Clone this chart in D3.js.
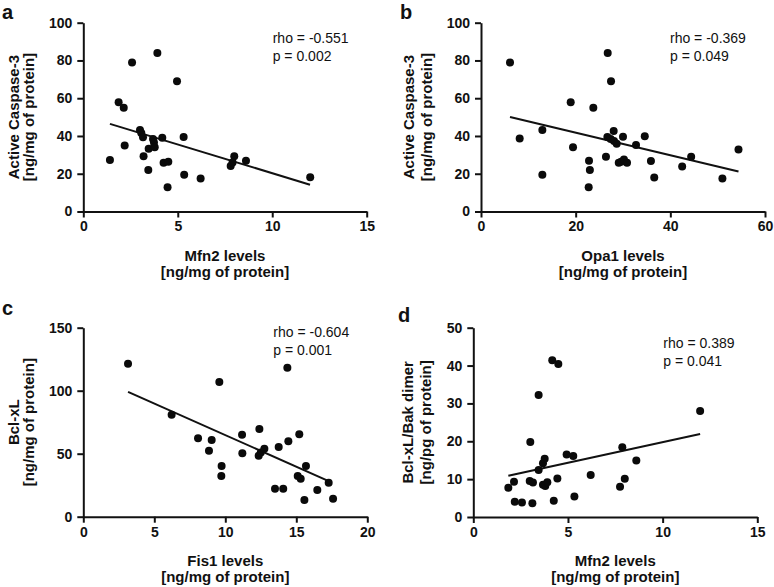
<!DOCTYPE html>
<html>
<head>
<meta charset="utf-8">
<script src="https://cdn.jsdelivr.net/npm/d3@7"></script>
<style>
  html, body { margin: 0; padding: 0; background: #fff; }
  svg { display: block; }
  text { font-family: "Liberation Sans", Arial, sans-serif; fill: #111; }
</style>
</head>
<body>
<script>
// ---------------- DATA ----------------
// Panel a: Mfn2 vs Active Caspase-3
const aX = [1.41,1.87,2.14,2.19,2.58,3.0,3.07,3.16,3.19,3.44,3.46,3.69,3.74,3.78,3.92,4.18,4.25,4.50,4.46,4.96,5.31,5.34,6.21,7.80,7.99,7.9,8.61,12.01];
const aY = [27.3,57.8,54.9,35.0,78.9,43.2,41.6,39.3,29.2,22.0,33.3,38.4,36.6,34.0,84.0,39.1,25.8,26.4,12.9,69.0,39.5,19.5,17.5,24.1,29.2,26.0,26.9,18.2];
const aFit = [[1.41,46.4],[12.0,14.2]];
const aStats = ["rho = -0.551", "p = 0.002"];

// Panel b: Opa1 vs Active Caspase-3
const bX = [6.13,8.17,12.96,12.96,18.95,19.44,22.82,22.75,23.0,23.73,26.4,26.77,26.7,27.47,27.4,28.03,28.1,28.67,29.1,29.6,30.0,30.2,30.85,32.75,34.6,35.9,36.6,42.5,44.4,51.0,54.4];
const bY = [78.9,38.7,43.2,19.5,57.8,34.0,26.9,12.9,22.0,54.9,29.0,84.0,39.5,69.0,38.4,42.6,37.3,35.9,25.8,26.4,39.6,27.6,25.8,35.2,39.8,26.7,18.0,23.9,29.0,17.5,32.9];
const bFit = [[6.13,50.1],[54.4,21.2]];
const bStats = ["rho = -0.369", "p = 0.049"];

// Panel c: Fis1 vs Bcl-xL
const cX = [3.15,6.22,8.08,8.85,9.04,9.58,9.74,9.72,11.18,11.2,12.4,12.35,12.5,12.75,13.76,13.5,14.08,14.37,14.44,15.21,15.1,15.31,15.68,15.57,16.48,17.28,17.59];
const cY = [121.4,81.0,62.2,52.4,60.9,106.9,40.2,32.3,65.1,50.3,69.6,48.4,50.9,54.0,55.3,22.2,22.2,118.3,59.8,65.4,32.3,30.2,40.2,13.2,21.2,27.0,14.3];
const cFit = [[3.15,99.0],[17.28,28.3]];
const cStats = ["rho = -0.604", "p = 0.001"];

// Panel d: Mfn2 vs Bcl-xL/Bak dimer
const dX = [1.85,2.15,2.19,2.57,2.98,3.01,3.15,3.12,3.45,3.45,3.68,3.77,3.68,3.8,3.91,4.17,4.25,4.44,4.49,4.93,5.28,5.34,6.2,7.75,7.87,8.0,8.61,11.98];
const dY = [7.7,9.3,4.0,3.8,9.5,19.8,9.1,3.6,32.2,12.4,14.2,15.4,8.5,8.2,9.2,41.4,4.3,10.2,40.4,16.5,16.1,5.4,11.1,8.0,18.4,10.1,14.9,28.0];
const dFit = [[1.85,10.9],[11.98,21.9]];
const dStats = ["rho = 0.389", "p = 0.041"];

// Axis ticks
const aXTicks = [0,5,10,15],  aYTicks = [0,20,40,60,80,100];
const bXTicks = [0,20,40,60], bYTicks = [0,20,40,60,80,100];
const cXTicks = [0,5,10,15,20], cYTicks = [0,50,100,150];
const dXTicks = [0,5,10,15],  dYTicks = [0,10,20,30,40,50];

// Labels
const letters = ["a","b","c","d"];
const xTitles = [["Mfn2 levels","[ng/mg of protein]"],["Opa1 levels","[ng/mg of protein]"],["Fis1 levels","[ng/mg of protein]"],["Mfn2 levels","[ng/mg of protein]"]];
const yTitles = [["Active  Caspase-3","[ng/mg of protein]"],["Active  Caspase-3","[ng/mg of protein]"],["Bcl-xL","[ng/mg of protein]"],["Bcl-xL/Bak dimer","[ng/pg of protein]"]];

// ---------------- LAYOUT ----------------
const W = 774, H = 587;
const svg = d3.select("body").append("svg").attr("width", W).attr("height", H);

const panels = [
  {x:aX, y:aY, fit:aFit, stats:aStats, xt:aXTicks, yt:aYTicks, left:83.3, right:366.7, top:22.7, bottom:211.5,
   letter:[2,19], statPos:[272.7,43], yTitleOff:[-70,-55]},
  {x:bX, y:bY, fit:bFit, stats:bStats, xt:bXTicks, yt:bYTicks, left:481, right:765, top:22.7, bottom:211.5,
   letter:[400,19], statPos:[670,43], yTitleOff:[-72,-54]},
  {x:cX, y:cY, fit:cFit, stats:cStats, xt:cXTicks, yt:cYTicks, left:83.3, right:367.3, top:327.7, bottom:516.7,
   letter:[2,315], statPos:[273.3,337], yTitleOff:[-70,-55]},
  {x:dX, y:dY, fit:dFit, stats:dStats, xt:dXTicks, yt:dYTicks, left:473.3, right:757.3, top:327.7, bottom:517,
   letter:[398,322], statPos:[663.3,347.5], yTitleOff:[-66,-48]}
];

panels.forEach((p, i) => {
  const xs = d3.scaleLinear().domain([p.xt[0], p.xt[p.xt.length-1]]).range([p.left, p.right]);
  const ys = d3.scaleLinear().domain([p.yt[0], p.yt[p.yt.length-1]]).range([p.bottom, p.top]);
  const g = svg.append("g");

  // axes
  const xAxis = d3.axisBottom(xs).tickValues(p.xt).tickSize(6).tickSizeOuter(0).tickPadding(4);
  const yAxis = d3.axisLeft(ys).tickValues(p.yt).tickSize(6).tickSizeOuter(0).tickPadding(5);
  const gx = g.append("g").attr("transform", `translate(0,${p.bottom})`).call(xAxis);
  const gy = g.append("g").attr("transform", `translate(${p.left},0)`).call(yAxis);
  [gx, gy].forEach(ax => {
    ax.select(".domain").attr("stroke", "#111").attr("stroke-width", 2);
    ax.selectAll(".tick line").attr("stroke", "#111").attr("stroke-width", 2);
    ax.selectAll(".tick text").style("font-family", '"Liberation Sans", Arial, sans-serif')
      .style("font-size", "14px").style("font-weight", "bold").attr("fill", "#111");
  });

  // fit line
  g.append("line")
    .attr("x1", xs(p.fit[0][0])).attr("y1", ys(p.fit[0][1]))
    .attr("x2", xs(p.fit[1][0])).attr("y2", ys(p.fit[1][1]))
    .attr("stroke", "#111").attr("stroke-width", 2);

  // points
  g.selectAll("circle").data(p.x.map((v, k) => [v, p.y[k]])).enter().append("circle")
    .attr("cx", d => xs(d[0])).attr("cy", d => ys(d[1])).attr("r", 4).attr("fill", "#0a0a0a");

  // stats
  p.stats.forEach((s, k) => {
    g.append("text").attr("x", p.statPos[0]).attr("y", p.statPos[1] + k * 18)
      .style("font-size", "14px").text(s);
  });

  // x title
  const cx = (p.left + p.right) / 2;
  xTitles[i].forEach((t, k) => {
    g.append("text").attr("x", cx).attr("y", p.bottom + 49 + k * 16)
      .attr("text-anchor", "middle").style("font-size", "15px").style("font-weight", "bold").text(t);
  });

  // y title
  const cy = (p.top + p.bottom) / 2;
  yTitles[i].forEach((t, k) => {
    const tx = p.left + p.yTitleOff[k];
    g.append("text").attr("transform", `translate(${tx},${cy}) rotate(-90)`)
      .attr("text-anchor", "middle").attr("dy", "0.35em")
      .style("font-size", "15px").style("font-weight", "bold").text(t);
  });

  // panel letter
  g.append("text").attr("x", p.letter[0]).attr("y", p.letter[1])
    .style("font-size", "20px").style("font-weight", "bold").text(letters[i]);
});
</script>
</body>
</html>
